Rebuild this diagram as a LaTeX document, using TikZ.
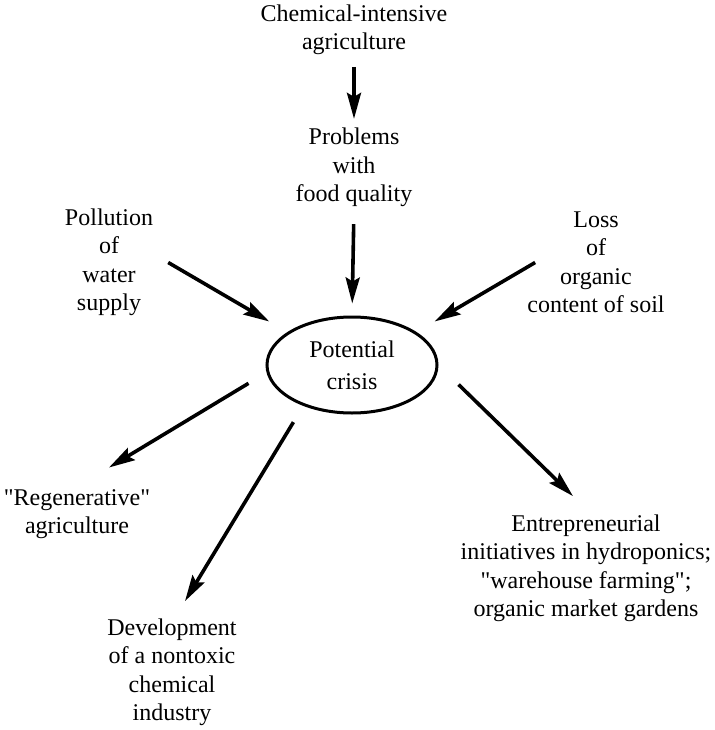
\documentclass[tikz,border=0pt]{standalone}
\usepackage{fontspec}
\setmainfont{Liberation Serif}
\usetikzlibrary{arrows.meta,shapes.geometric}
\begin{document}
\begin{tikzpicture}
[x=1pt,y=-1pt,
  arrowLine/.style={-{Stealth[length=26pt,width=14pt,inset=4pt]},line width=3.6pt},%
  textNode/.style={align=center,inner sep=0pt,font=\fontsize{24}{28.5}\selectfont},%
  crisisNode/.style={shape=ellipse,draw,line width=3pt,align=center,inner sep=0pt,%
    minimum width=170pt,minimum height=96pt,font=\fontsize{24}{32}\selectfont}]
\useasboundingbox (0,0) rectangle (714,730);
%% text nodes
\foreach \nodename/\x/\y/\nodetext in {chem/354/30/{Chemical-intensive\\agriculture},
  prob/354/167.5/{Problems\\with\\food quality},
  poll/109/262.5/{Pollution\\of\\water\\supply},
  loss/596/262.5/{Loss\\of\\organic\\content of soil},
  regen/77/514/{\textquotedbl Regenerative\textquotedbl\\agriculture},
  dev/172/672.5/{Development\\of a nontoxic\\chemical\\industry},
  entre/586/568.5/{Entrepreneurial\\initiatives in hydroponics;\\\textquotedbl warehouse farming\textquotedbl;\\organic market gardens}}
{
  \node (\nodename) at (\x,\y) [textNode] {\nodetext};
}
%% centre node
\node (crisis) at (352,365) [crisisNode] {Potential\\crisis};
%% arrows into the crisis
\draw[arrowLine,shorten <=11.5pt,shorten >=9pt] (chem.south) -- (prob.north);
\draw[arrowLine,shorten <=17pt,shorten >=12pt] (prob.south) -- (crisis.north);
\draw[arrowLine,shorten >=21pt] ([xshift=15pt]poll.east) -- (crisis.153);
\draw[arrowLine,shorten >=21pt] ([xshift=8pt]loss.west) -- (crisis.27);
%% arrows out of the crisis
\draw[arrowLine,shorten <=21pt] (crisis.185) -- ([xshift=32pt,yshift=21.5pt]regen.north);
\draw[arrowLine,shorten <=19pt] (crisis.220) -- ([xshift=13pt,yshift=17.5pt]dev.north);
\draw[arrowLine,shorten <=28pt] (crisis.east) -- ([xshift=-13pt,yshift=18.5pt]entre.north);
\end{tikzpicture}
\end{document}
